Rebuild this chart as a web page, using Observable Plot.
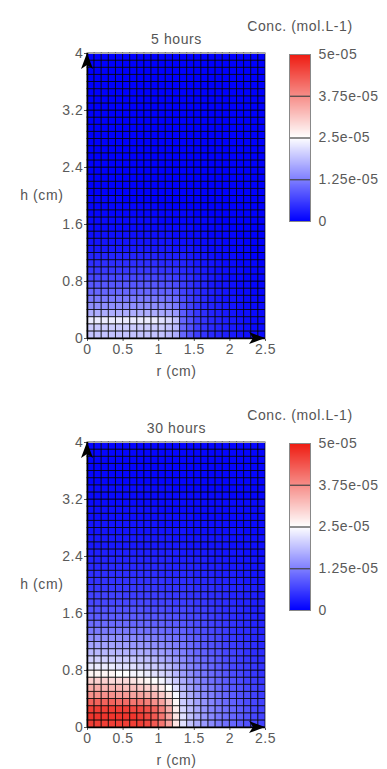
<!DOCTYPE html>
<html>
<head>
<meta charset="utf-8">
<script src="https://cdn.jsdelivr.net/npm/d3@7"></script>
<script src="https://cdn.jsdelivr.net/npm/@observablehq/plot@0.6"></script>
<style>
  html, body { margin: 0; padding: 0; background: #fff; }
  #page { position: relative; width: 387px; height: 769px; overflow: hidden; }
  .chart { position: absolute; left: 0; width: 387px; height: 380px; }
  .bar { position: absolute; left: 230px; top: 0; }
  .main { position: absolute; left: 0; top: 0; }
</style>
</head>
<body>
<div id="page">
  <div class="chart" id="c1" style="top:0px"></div>
  <div class="chart" id="c2" style="top:389px"></div>
</div>
<script>
// ---- data (concentration, in units of 1e-6 mol/L) ----
// rows go from h = 0 (bottom) to h = 4 cm (top); 25 columns from r = 0 to r = 2.5 cm
const unit = 1e-6;
const titles = ["5 hours", "30 hours"];
const rTicks = [0, 0.5, 1, 1.5, 2, 2.5];
const rTickLabels = ["0", "0.5", "1", "1.5", "2", "2.5"];
const hTicks = [0, 0.8, 1.6, 2.4, 3.2, 4];
const hTickLabels = ["0", "0.8", "1.6", "2.4", "3.2", "4"];
const legendTicks = [0, 1.25e-5, 2.5e-5, 3.75e-5, 5e-5];
const legendLabels = ["0", "1.25e-05", "2.5e-05", "3.75e-05", "5e-05"];
const rEdges = [0,0.1,0.2,0.3,0.4,0.5,0.6,0.7,0.8,0.9,1,1.1,1.2,1.3,1.4,1.5,1.6,1.7,1.8,1.9,2,2.1,2.2,2.3,2.4,2.5];

const conc5h = [
"19 19 19 19 19 19 19 19 19 19 19 18 17 10 8 6 5 4 3.5 3 2.5 2 1.5 1 1",
"20 20 20 20 20 20 20 20 20 20 20 19 18 10 8 6 5 4 3.5 3 2.5 2 1.5 1 1",
"23 23 23 23 23 23 23 23 23 23 22 21 19 10 8 6 5 4 3.5 3 2.5 2 1.5 1 1",
"17 17 17 17 17 17 17 17 17 17 16.5 16 15 9 7 5.5 4.5 3.5 3 2.5 2 1.5 1.5 1 1",
"14 14 14 14 14 14 14 14 14 14 13.5 13 12 8 6.5 5 4 3.5 3 2.5 2 1.5 1 1 1",
"12 12 12 12 12 12 12 12 12 12 11.5 11 10.5 7.5 6 5 4 3 2.5 2 2 1.5 1 1 0.5",
"10 10 10 10 10 10 10 10 10 10 9.5 9.5 9 6.5 5.5 4.5 3.5 3 2.5 2 1.5 1 1 0.5 0.5",
"8.5 8.5 8.5 8.5 8.5 8.5 8.5 8.5 8.5 8.5 8 8 7.5 6 5 4 3.5 2.5 2 2 1.5 1 1 0.5 0.5",
"7 7 7 7 7 7 7 7 7 7 6.5 6.5 6 5 4.5 3.5 3 2.5 2 1.5 1 1 0.5 0.5 0.5",
"5.5 5.5 5.5 5.5 5.5 5.5 5.5 5.5 5.5 5.5 5 5 5 4 3.5 3 2.5 2 1.5 1.5 1 1 0.5 0.5 0.5",
"4.5 4.5 4.5 4.5 4.5 4.5 4.5 4.5 4.5 4.5 4 4 4 3.5 3 2.5 2 2 1.5 1 1 0.5 0.5 0.5 0",
"3.5 3.5 3.5 3.5 3.5 3.5 3.5 3.5 3.5 3.5 3 3 3 3 2.5 2 2 1.5 1 1 1 0.5 0.5 0 0",
"2.5 2.5 2.5 2.5 2.5 2.5 2.5 2.5 2.5 2.5 2.5 2.5 2 2 2 1.5 1.5 1 1 1 0.5 0.5 0.5 0 0",
"2 2 2 2 2 2 2 2 2 2 2 2 1.5 1.5 1.5 1 1 1 1 0.5 0.5 0.5 0 0 0",
"1.5 1.5 1.5 1.5 1.5 1.5 1.5 1.5 1.5 1.5 1.5 1.5 1 1 1 1 1 0.5 0.5 0.5 0.5 0 0 0 0",
"1 1 1 1 1 1 1 1 1 1 1 1 1 1 1 0.5 0.5 0.5 0.5 0.5 0 0 0 0 0",
"1 1 1 1 1 1 1 1 1 1 0.5 0.5 0.5 0.5 0.5 0.5 0.5 0.5 0 0 0 0 0 0 0",
"0.5 0.5 0.5 0.5 0.5 0.5 0.5 0.5 0.5 0.5 0.5 0.5 0.5 0.5 0.5 0 0 0 0 0 0 0 0 0 0",
"0.5 0.5 0.5 0.5 0.5 0.5 0.5 0.5 0.5 0.5 0 0 0 0 0 0 0 0 0 0 0 0 0 0 0",
"0.5 0.5 0.5 0.5 0.5 0 0 0 0 0 0 0 0 0 0 0 0 0 0 0 0 0 0 0 0",
"0 0 0 0 0 0 0 0 0 0 0 0 0 0 0 0 0 0 0 0 0 0 0 0 0",
"0 0 0 0 0 0 0 0 0 0 0 0 0 0 0 0 0 0 0 0 0 0 0 0 0",
"0 0 0 0 0 0 0 0 0 0 0 0 0 0 0 0 0 0 0 0 0 0 0 0 0",
"0 0 0 0 0 0 0 0 0 0 0 0 0 0 0 0 0 0 0 0 0 0 0 0 0",
"0 0 0 0 0 0 0 0 0 0 0 0 0 0 0 0 0 0 0 0 0 0 0 0 0",
"0 0 0 0 0 0 0 0 0 0 0 0 0 0 0 0 0 0 0 0 0 0 0 0 0",
"0 0 0 0 0 0 0 0 0 0 0 0 0 0 0 0 0 0 0 0 0 0 0 0 0",
"0 0 0 0 0 0 0 0 0 0 0 0 0 0 0 0 0 0 0 0 0 0 0 0 0",
"0 0 0 0 0 0 0 0 0 0 0 0 0 0 0 0 0 0 0 0 0 0 0 0 0",
"0 0 0 0 0 0 0 0 0 0 0 0 0 0 0 0 0 0 0 0 0 0 0 0 0",
"0 0 0 0 0 0 0 0 0 0 0 0 0 0 0 0 0 0 0 0 0 0 0 0 0",
"0 0 0 0 0 0 0 0 0 0 0 0 0 0 0 0 0 0 0 0 0 0 0 0 0",
"0 0 0 0 0 0 0 0 0 0 0 0 0 0 0 0 0 0 0 0 0 0 0 0 0",
"0 0 0 0 0 0 0 0 0 0 0 0 0 0 0 0 0 0 0 0 0 0 0 0 0",
"0 0 0 0 0 0 0 0 0 0 0 0 0 0 0 0 0 0 0 0 0 0 0 0 0",
"0 0 0 0 0 0 0 0 0 0 0 0 0 0 0 0 0 0 0 0 0 0 0 0 0",
"0 0 0 0 0 0 0 0 0 0 0 0 0 0 0 0 0 0 0 0 0 0 0 0 0",
"0 0 0 0 0 0 0 0 0 0 0 0 0 0 0 0 0 0 0 0 0 0 0 0 0",
"0 0 0 0 0 0 0 0 0 0 0 0 0 0 0 0 0 0 0 0 0 0 0 0 0",
"0 0 0 0 0 0 0 0 0 0 0 0 0 0 0 0 0 0 0 0 0 0 0 0 0"
];

const conc30h = [
"46 46 46 46 46 46 46 46 45 43 40 35 28 22 19 17 15 13.5 12 11 10 9 8 7 6.5",
"47 47 47 47 47 47 47 46 45 43 40 35 28 22 19 17 15 13.5 12 11 10 9 8 7 6.5",
"46 46 46 46 46 46 45 45 44 42 39 34 27 21 18.5 16.5 14.5 13 12 11 10 9 8 7 6.5",
"42 42 42 42 41 41 40 40 39 37 35 31 26 20 18 16 14.5 13 11.5 10.5 9.5 8.5 7.5 7 6.5",
"37 37 37 37 36 36 35 35 34 33 31 28 24 19 17 15 13.5 12.5 11 10 9 8 7.5 6.5 6",
"34 34 33 33 33 32 32 31 30 29 27 25 22 18 16 14 13 12 10.5 9.5 8.5 8 7 6.5 6",
"30 30 30 29 29 29 28 27 26 25 24 22 20 17 15 13.5 12 11 10 9 8 7.5 6.5 6 5.5",
"26 26 26 26 25 25 24 24 23 22 21 20 18 15.5 14 12.5 11.5 10.5 9.5 8.5 7.5 7 6 5.5 5",
"23 23 23 23 22 22 22 21 20 20 19 18 16.5 14.5 13 12 11 10 9 8 7 6.5 6 5.5 5",
"20.5 20.5 20.5 20 20 20 19.5 19 18.5 18 17 16 15 13.5 12 11 10 9.5 8.5 7.5 7 6 5.5 5 4.5",
"18 18 18 18 17.5 17.5 17 17 16.5 16 15.5 14.5 13.5 12.5 11 10 9.5 8.5 8 7 6.5 6 5 4.5 4.5",
"16 16 16 16 15.5 15.5 15 15 14.5 14 13.5 13 12.5 11.5 10.5 9.5 8.5 8 7.5 6.5 6 5.5 5 4.5 4",
"14 14 14 14 14 13.5 13.5 13 13 12.5 12 11.5 11 10.5 9.5 9 8 7.5 7 6 5.5 5 4.5 4 4",
"12 12 12 12 12 12 11.5 11.5 11 11 10.5 10 10 9.5 8.5 8 7.5 7 6.5 6 5 4.5 4.5 4 3.5",
"10.5 10.5 10.5 10.5 10.5 10.5 10 10 10 9.5 9.5 9 9 8.5 8 7.5 7 6.5 6 5.5 5 4.5 4 3.5 3.5",
"9 9 9 9 9 9 9 9 8.5 8.5 8.5 8 8 7.5 7 7 6.5 6 5.5 5 4.5 4 4 3.5 3",
"8 8 8 8 8 8 8 8 7.5 7.5 7.5 7 7 7 6.5 6 6 5.5 5 4.5 4.5 4 3.5 3 3",
"7 7 7 7 7 7 7 7 7 6.5 6.5 6.5 6 6 6 5.5 5.5 5 4.5 4.5 4 3.5 3.5 3 3",
"6.5 6.5 6.5 6.5 6.5 6 6 6 6 6 6 5.5 5.5 5.5 5 5 5 4.5 4.5 4 3.5 3.5 3 3 2.5",
"5.5 5.5 5.5 5.5 5.5 5.5 5.5 5.5 5.5 5.5 5 5 5 5 5 4.5 4.5 4.5 4 4 3.5 3.5 3 3 2.5",
"5 5 5 5 5 5 5 5 5 5 5 4.5 4.5 4.5 4.5 4 4 4 3.5 3.5 3 3 2.5 2.5 2",
"4.5 4.5 4.5 4.5 4.5 4.5 4.5 4.5 4.5 4.5 4 4 4 4 4 3.5 3.5 3.5 3 3 3 2.5 2.5 2 2",
"4 4 4 4 4 4 4 4 4 4 4 3.5 3.5 3.5 3.5 3.5 3 3 3 2.5 2.5 2.5 2 2 2",
"3.5 3.5 3.5 3.5 3.5 3.5 3.5 3.5 3.5 3.5 3.5 3.5 3 3 3 3 3 2.5 2.5 2.5 2 2 2 2 1.5",
"3 3 3 3 3 3 3 3 3 3 3 3 3 2.5 2.5 2.5 2.5 2.5 2 2 2 2 1.5 1.5 1.5",
"2.5 2.5 2.5 2.5 2.5 2.5 2.5 2.5 2.5 2.5 2.5 2.5 2.5 2.5 2 2 2 2 2 2 1.5 1.5 1.5 1.5 1.5",
"2.5 2.5 2.5 2.5 2.5 2.5 2.5 2.5 2.5 2.5 2.5 2.5 2 2 2 2 2 2 2 2 1.5 1.5 1.5 1.5 1.5",
"2 2 2 2 2 2 2 2 2 2 2 2 2 2 1.5 1.5 1.5 1.5 1.5 1.5 1.5 1.5 1 1 1",
"2 2 2 2 2 2 2 2 2 2 1.5 1.5 1.5 1.5 1.5 1.5 1.5 1.5 1.5 1.5 1 1 1 1 1",
"1.5 1.5 1.5 1.5 1.5 1.5 1.5 1.5 1.5 1.5 1.5 1.5 1.5 1.5 1.5 1 1 1 1 1 1 1 1 1 1",
"1.5 1.5 1.5 1.5 1.5 1.5 1.5 1.5 1.5 1.5 1 1 1 1 1 1 1 1 1 1 1 1 1 1 1",
"1 1 1 1 1 1 1 1 1 1 1 1 1 1 1 1 1 1 1 1 1 1 1 1 1",
"1 1 1 1 1 1 1 1 1 1 1 1 1 1 1 1 1 1 1 1 0.5 0.5 0.5 0.5 0.5",
"1 1 1 1 1 1 1 1 1 1 1 1 0.5 0.5 0.5 0.5 0.5 0.5 0.5 0.5 0.5 0.5 0.5 0.5 0.5",
"0.5 0.5 0.5 0.5 0.5 0.5 0.5 0.5 0.5 0.5 0.5 0.5 0.5 0.5 0.5 0.5 0.5 0.5 0.5 0.5 0.5 0.5 0.5 0.5 0.5",
"0.5 0.5 0.5 0.5 0.5 0.5 0.5 0.5 0.5 0.5 0.5 0.5 0.5 0.5 0.5 0.5 0.5 0.5 0.5 0.5 0.5 0.5 0.5 0.5 0.5",
"0.5 0.5 0.5 0.5 0.5 0.5 0.5 0.5 0.5 0.5 0.5 0.5 0.5 0.5 0.5 0.5 0.5 0.5 0.5 0.5 0.5 0.5 0.5 0.5 0.5",
"0.5 0.5 0.5 0.5 0.5 0.5 0.5 0.5 0.5 0.5 0.5 0.5 0.5 0.5 0.5 0.5 0.5 0.5 0.5 0.5 0.5 0.5 0.5 0.5 0.5",
"0.5 0.5 0.5 0.5 0.5 0.5 0.5 0.5 0.5 0.5 0.5 0.5 0.5 0.5 0.5 0.5 0.5 0.5 0.5 0.5 0.5 0.5 0.5 0.5 0.5",
"0.5 0.5 0.5 0.5 0.5 0.5 0.5 0.5 0.5 0.5 0.5 0.5 0.5 0.5 0.5 0.5 0.5 0.5 0.5 0.5 0.5 0.5 0.5 0.5 0.5"
];

// ---- styling ----
const colorStops = ["#0000ff", "#ffffff", "#ee1a10"];
const colorScale = {
  type: "linear",
  domain: [0, 5e-5],
  interpolate: d3.piecewise(d3.interpolateRgb, colorStops)
};
const svgStyle = "font-family: 'Liberation Sans', Arial, sans-serif; font-size: 14px; letter-spacing: 0.6px; color: #5a5a5a; background: transparent;";
const textFill = "#555";

function toCells(rows) {
  const hEdges = d3.range(rows.length + 1).map(k => k / 10);
  const cells = [];
  rows.forEach((row, j) => {
    const vals = row.trim().split(/\s+/).map(Number);
    if (vals.length !== 25) console.warn("row", j, "has", vals.length);
    vals.forEach((v, i) => cells.push({r1: rEdges[i], r2: rEdges[i + 1], h1: hEdges[j], h2: hEdges[j + 1], conc: v * unit}));
  });
  return cells;
}

function arrows(index, scales) {
  const x = scales.x, y = scales.y;
  const g = d3.create("svg:g");
  g.append("path")
    .attr("d", `M${x(0)},${y(4)} l-6,16 l6,-4 l6,4 z`)
    .attr("fill", "#000");
  g.append("path")
    .attr("d", `M${x(2.5)},${y(0)} l-16,-6 l4,6 l-4,6 z`)
    .attr("fill", "#000");
  return g.node();
}

function heatmap(rows, title) {
  return Plot.plot({
    width: 387, height: 380,
    marginLeft: 87, marginRight: 122, marginTop: 53, marginBottom: 42,
    style: svgStyle,
    x: {domain: [0, 2.5], ticks: rTicks, tickFormat: d => rTickLabels[rTicks.indexOf(d)], tickSize: 3, tickPadding: 3, label: null},
    y: {domain: [0, 4], ticks: hTicks, tickFormat: d => hTickLabels[hTicks.indexOf(d)], tickSize: 3, tickPadding: 1, label: null},
    color: colorScale,
    marks: [
      Plot.rect(toCells(rows), {x1: "r1", x2: "r2", y1: "h1", y2: "h2", fill: "conc",
        stroke: "#000", strokeOpacity: 0.72, strokeWidth: 1}),
      Plot.frame({stroke: "#aaa", strokeWidth: 1}),
      Plot.ruleX([0], {stroke: "#000", strokeWidth: 1.5}),
      Plot.ruleY([0], {stroke: "#000", strokeWidth: 1.5}),
      Plot.text([title], {frameAnchor: "top", lineAnchor: "middle", dy: -14, fill: textFill}),
      Plot.text(["r (cm)"], {frameAnchor: "bottom", lineAnchor: "middle", dy: 33, fill: textFill}),
      Plot.text(["h (cm)"], {frameAnchor: "left", lineAnchor: "middle", dx: -24, textAnchor: "end", fill: textFill}),
      arrows
    ]
  });
}

function colorbar() {
  const n = 167;
  const step = 5e-5 / n;
  const stripes = d3.range(n).map(k => k * step);
  return Plot.plot({
    width: 157, height: 240,
    marginLeft: 59, marginRight: 77, marginTop: 54, marginBottom: 19,
    style: svgStyle,
    x: {domain: [0, 1], axis: null},
    y: {domain: [0, 5e-5], ticks: legendTicks, tickFormat: d => legendLabels[legendTicks.indexOf(d)],
        tickSize: 0, tickPadding: 8, axis: "right", label: null},
    color: colorScale,
    marks: [
      Plot.rect(stripes, {x1: 0, x2: 1, y1: d => d, y2: d => d + step * 1.3, fill: d => d + step / 2, shapeRendering: "crispEdges"}),
      Plot.ruleY(legendTicks.slice(1, -1), {x1: 0, x2: 1, stroke: "#444", strokeWidth: 1.2}),
      Plot.frame({stroke: "#888", strokeWidth: 1}),
      Plot.text(["Conc. (mol.L-1)"], {frameAnchor: "top", lineAnchor: "middle", dy: -28, fill: textFill})
    ]
  });
}

[["c1", conc5h, titles[0]], ["c2", conc30h, titles[1]]].forEach(([id, rows, title]) => {
  const host = document.getElementById(id);
  const main = heatmap(rows, title);
  main.classList.add("main");
  host.appendChild(main);
  const bar = colorbar();
  bar.classList.add("bar");
  host.appendChild(bar);
});
</script>
</body>
</html>
